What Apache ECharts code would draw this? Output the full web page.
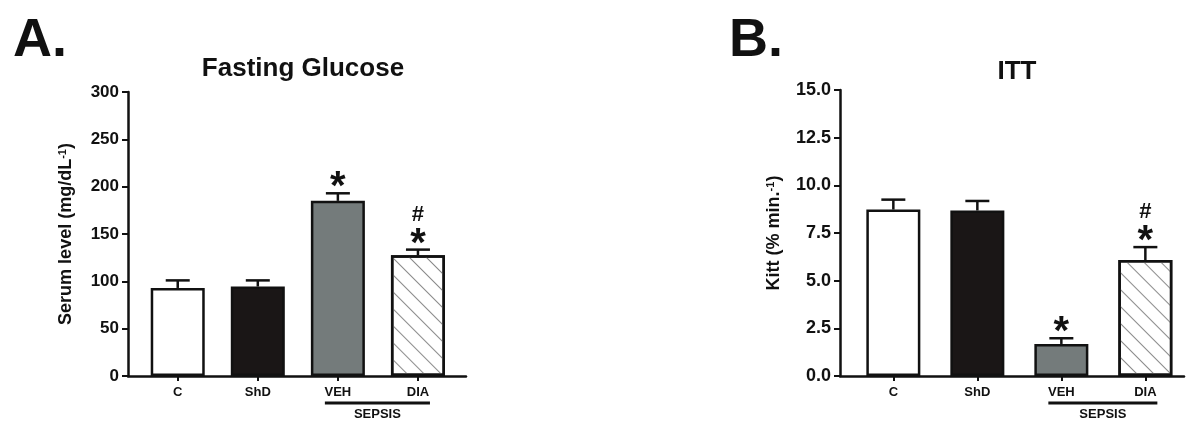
<!DOCTYPE html>
<html>
<head>
<meta charset="UTF-8">
<title>Fasting Glucose / ITT</title>
<script src="https://cdn.jsdelivr.net/npm/echarts@6.0.0/dist/echarts.min.js"></script>
</head>
<body style="margin:0;background:#fff;">
<div id="main" style="width:1200px;height:433px;"></div>
<script>
// groups
var groups = ['C', 'ShD', 'VEH', 'DIA'];
// A. fasting glucose (mg/dL-1), mean and SEM
var glucoseMean = [93, 94.5, 185, 127.5];
var glucoseSem = [8, 6.5, 8, 6];
var glucoseMarks = ['', '', '*', '#*'];
var glucoseTicks = [0, 50, 100, 150, 200, 250, 300];
// B. ITT, Kitt (% min-1)
var kittMean = [8.73, 8.68, 1.68, 6.08];
var kittSem = [0.52, 0.5, 0.3, 0.68];
var kittMarks = ['', '', '*', '#*'];
var kittTicks = [0, 2.5, 5, 7.5, 10, 12.5, 15];

var FONT = 'Liberation Sans, Arial, sans-serif';
var fills = ['#ffffff', '#1a1616', '#747b7b', '#ffffff'];
var hatch = {
	symbol: 'rect',
	symbolSize: 1,
	dashArrayX: [1, 0],
	dashArrayY: [1, 11],
	rotation: Math.PI / 4,
	color: '#8c8c8c'
};

function barData(mean) {
	return mean.map(function (v, i) {
		var item = { value: [i, v], itemStyle: { color: fills[i] } };
		if (i === 3) item.itemStyle.decal = hatch;
		return item;
	});
}
function errData(mean, sem, marks) {
	return mean.map(function (v, i) {
		return { value: [i, v, v + sem[i]], mark: marks[i] };
	});
}
function errRender(marks) {
	return function (params, api) {
		var i = params.dataIndex;
		var p0 = api.coord([api.value(0), api.value(1)]);
		var p1 = api.coord([api.value(0), api.value(2)]);
		var kids = [
			{ type: 'line', shape: { x1: p0[0], y1: p0[1], x2: p1[0], y2: p1[1] }, style: { stroke: '#111', lineWidth: 2.5 } },
			{ type: 'line', shape: { x1: p1[0] - 12, y1: p1[1], x2: p1[0] + 12, y2: p1[1] }, style: { stroke: '#111', lineWidth: 2.5 } }
		];
		var m = marks[i];
		if (m.indexOf('*') >= 0) {
			kids.push({ type: 'text', style: { text: '*', x: p1[0], y: p1[1] - 5, align: 'center', verticalAlign: 'middle', fontSize: 40, fontWeight: 'bold', fontFamily: FONT, fill: '#111' } });
		}
		if (m.indexOf('#') >= 0) {
			kids.push({ type: 'text', style: { text: '#', x: p1[0], y: p1[1] - 35, align: 'center', verticalAlign: 'middle', fontSize: 22, fontWeight: 'bold', fontFamily: FONT, fill: '#111' } });
		}
		return { type: 'group', children: kids };
	};
}

function xAxisOf(idx, min, max) {
	return {
		type: 'value', gridIndex: idx, min: min, max: max,
		splitLine: { show: false },
		axisLine: { show: true, lineStyle: { color: '#111', width: 2.5 } },
		axisTick: { show: true, length: 5, customValues: [0, 1, 2, 3], lineStyle: { color: '#111', width: 2 } },
		axisLabel: {
			customValues: [0, 1, 2, 3], margin: 10,
			formatter: function (v) { return groups[v]; },
			fontSize: 13, fontWeight: 'bold', fontFamily: FONT, color: '#111'
		}
	};
}
function yAxisOf(idx, ticks, name, gap, fs, dec) {
	return {
		type: 'value', gridIndex: idx,
		min: ticks[0], max: ticks[ticks.length - 1], interval: ticks[1] - ticks[0],
		name: name, nameLocation: 'middle', nameRotate: 90, nameGap: gap,
		nameTextStyle: {
			fontSize: 18, fontWeight: 'bold', fontFamily: FONT, color: '#111',
			rich: { sup: { fontSize: 11, fontWeight: 'bold', fontFamily: FONT, color: '#111', verticalAlign: 'top', padding: [0, 0, 8, 0] } }
		},
		splitLine: { show: false },
		axisLine: { show: true, onZero: false, lineStyle: { color: '#111', width: 2.5 } },
		axisTick: { show: true, length: 6, lineStyle: { color: '#111', width: 2 } },
		axisLabel: {
			margin: 9, fontSize: fs, fontWeight: 'bold', fontFamily: FONT, color: '#111',
			formatter: function (v) { return dec ? v.toFixed(1) : String(v); }
		}
	};
}

var barStyle = { borderColor: '#111', borderWidth: 2.5 };

var option = {
	animation: false,
	backgroundColor: '#fff',
	title: [
		{ text: 'A.', left: 8, top: 9, textStyle: { fontSize: 54, fontWeight: 'bold', fontFamily: FONT, color: '#111' } },
		{ text: 'Fasting Glucose', left: 298, top: 51, textAlign: 'center', textStyle: { fontSize: 26, fontWeight: 'bold', fontFamily: FONT, color: '#111' } },
		{ text: 'B.', left: 724, top: 9, textStyle: { fontSize: 54, fontWeight: 'bold', fontFamily: FONT, color: '#111' } },
		{ text: 'ITT', left: 1012, top: 54, textAlign: 'center', textStyle: { fontSize: 26, fontWeight: 'bold', fontFamily: FONT, color: '#111' } }
	],
	grid: [
		{ left: 128, right: 734, top: 92, bottom: 57 },
		{ left: 840, right: 16, top: 90, bottom: 57 }
	],
	xAxis: [xAxisOf(0, -0.621, 3.6), xAxisOf(1, -0.635, 3.46)],
	yAxis: [
		yAxisOf(0, glucoseTicks, 'Serum level (mg/dL{sup|-1})', 52, 17, false),
		yAxisOf(1, kittTicks, 'Kitt (% min.{sup|-1})', 56, 18, true)
	],
	series: [
		{ type: 'bar', xAxisIndex: 0, yAxisIndex: 0, barWidth: 54, itemStyle: barStyle, data: barData(glucoseMean), z: 2 },
		{ type: 'custom', xAxisIndex: 0, yAxisIndex: 0, renderItem: errRender(glucoseMarks), data: errData(glucoseMean, glucoseSem, glucoseMarks), z: 3 },
		{ type: 'bar', xAxisIndex: 1, yAxisIndex: 1, barWidth: 54, itemStyle: barStyle, data: barData(kittMean), z: 2 },
		{ type: 'custom', xAxisIndex: 1, yAxisIndex: 1, renderItem: errRender(kittMarks), data: errData(kittMean, kittSem, kittMarks), z: 3 }
	]
};

var chart = echarts.init(document.getElementById('main'));
chart.setOption(option);

// SEPSIS bracket under VEH and DIA
function sepsis(gridIndex) {
	var a = chart.convertToPixel({ gridIndex: gridIndex }, [2, 0]);
	var b = chart.convertToPixel({ gridIndex: gridIndex }, [3, 0]);
	var x1 = a[0] - 13, x2 = b[0] + 12, y = a[1] + 27;
	return [
		{ type: 'line', shape: { x1: x1, y1: y, x2: x2, y2: y }, style: { stroke: '#111', lineWidth: 3 } },
		{ type: 'text', x: (x1 + x2) / 2, y: y + 11, style: { text: 'SEPSIS', align: 'center', verticalAlign: 'middle', fontSize: 13, fontWeight: 'bold', fontFamily: FONT, fill: '#111' } }
	];
}
chart.setOption({ graphic: sepsis(0).concat(sepsis(1)) });
</script>
</body>
</html>
